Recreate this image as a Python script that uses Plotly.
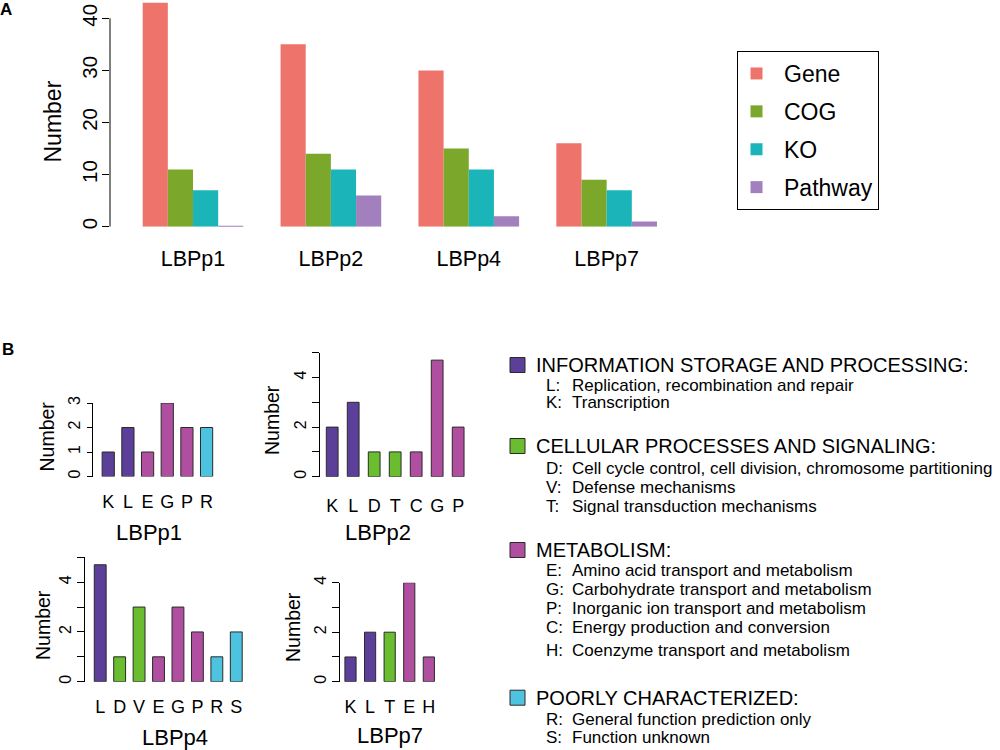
import plotly.graph_objects as go

# ---------------- DATA ----------------
samples = ["LBPp1", "LBPp2", "LBPp4", "LBPp7"]
gene = [43, 35, 30, 16]
cog = [11, 14, 15, 9]
ko = [7, 11, 11, 7]
pathway = [0.2, 6, 2, 1]
a_ticks = [0, 10, 20, 30, 40]

p1_cats = ["K", "L", "E", "G", "P", "R"]
p1_vals = [1, 2, 1, 3, 2, 2]
p2_cats = ["K", "L", "D", "T", "C", "G", "P"]
p2_vals = [2, 3, 1, 1, 1, 4.7, 2]
p4_cats = ["L", "D", "V", "E", "G", "P", "R", "S"]
p4_vals = [4.7, 1, 3, 1, 3, 2, 1, 2]
p7_cats = ["K", "L", "T", "E", "H"]
p7_vals = [1, 2, 2, 4, 1]

cog_class = {"L": "info", "K": "info", "D": "cell", "V": "cell", "T": "cell",
             "E": "met", "G": "met", "P": "met", "C": "met", "H": "met",
             "R": "poor", "S": "poor"}

legend_groups = [
    ("info", "INFORMATION STORAGE AND PROCESSING:",
     [("L:", "Replication, recombination and repair"), ("K:", "Transcription")]),
    ("cell", "CELLULAR PROCESSES AND SIGNALING:",
     [("D:", "Cell cycle control, cell division, chromosome partitioning"),
      ("V:", "Defense mechanisms"), ("T:", "Signal transduction mechanisms")]),
    ("met", "METABOLISM:",
     [("E:", "Amino acid transport and metabolism"), ("G:", "Carbohydrate transport and metabolism"),
      ("P:", "Inorganic ion transport and metabolism"), ("C:", "Energy production and conversion"),
      ("H:", "Coenzyme transport and metabolism")]),
    ("poor", "POORLY CHARACTERIZED:",
     [("R:", "General function prediction only"), ("S:", "Function unknown")]),
]

# ---------------- STYLE ----------------
W, H = 1000, 750
FONT = "Liberation Sans, Arial, Helvetica, sans-serif"
colA = {"Gene": "#EE746B", "COG": "#7BA72B", "KO": "#1BB5B9", "Pathway": "#A27FBD"}
colB = {"info": "#5B3F98", "cell": "#6ABD2E", "met": "#B04E9F", "poor": "#4EC3E0"}
EDGE = "#2a2a2a"


def fx(x):
    return x / W


def fy(y):
    return 1 - y / H


fig = go.Figure()

# ---- Panel A ----
for name, vals in [("Gene", gene), ("COG", cog), ("KO", ko), ("Pathway", pathway)]:
    fig.add_trace(go.Bar(x=samples, y=vals, name=name, legendgroup=name,
                         marker=dict(color=colA[name], line=dict(width=0)),
                         xaxis="x", yaxis="y"))

# ---- Panel B ----
# axis id, cats, vals, title, x-domain px, x-range, y-domain px, ymax, labelled ticks,
# bar width, title pos, "Number" pos, x tick standoff, y ticklen
panels = [
    ("2", p1_cats, p1_vals, "LBPp1", (92.5, 230), (-0.80, 6.19), (476.5, 403), 3, [0, 1, 2, 3], 0.62, (149, 532), (46.5, 437), 12, 5),
    ("3", p2_cats, p2_vals, "LBPp2", (320, 480), (-0.581, 7.04), (476.7, 352.7), 5, [0, 2, 4], 0.56, (378, 532), (272, 420), 16, 7),
    ("4", p4_cats, p4_vals, "LBPp4", (85, 260), (-0.782, 8.22), (681.7, 557.3), 5, [0, 2, 4], 0.61, (175, 737), (43, 625), 12, 7),
    ("5", p7_cats, p7_vals, "LBPp7", (340, 450), (-0.536, 5.08), (681.7, 582.7), 4, [0, 2, 4], 0.57, (390, 735), (293, 627), 12, 7),
]

annotations = []
shapes = []

for ax, cats, vals, title, xd, xr, yd, ymax, labelled, bw, tpos, npos, tso, tlen in panels:
    fig.add_trace(go.Bar(x=cats, y=vals, showlegend=False, width=bw,
                         marker=dict(color=[colB[cog_class[c]] for c in cats],
                                     line=dict(color=EDGE, width=1)),
                         xaxis="x" + ax, yaxis="y" + ax))
    tv = list(range(0, ymax + 1))
    tt = [str(v) if v in labelled else "" for v in tv]
    fig.layout["xaxis" + ax] = dict(domain=[fx(xd[0]), fx(xd[1])], range=list(xr), anchor="y" + ax,
                                    showline=False, ticks="", showgrid=False, zeroline=False,
                                    tickmode="array", tickvals=cats, ticktext=cats,
                                    tickfont=dict(size=18, color="black"), ticklabelstandoff=tso,
                                    automargin=False, fixedrange=True)
    fig.layout["yaxis" + ax] = dict(domain=[fy(yd[0]), fy(yd[1])], range=[0, ymax], anchor="x" + ax,
                                    showline=True, linecolor="black", linewidth=1,
                                    ticks="outside", ticklen=tlen, tickcolor="black",
                                    tickmode="array", tickvals=tv, ticktext=tt, tickangle=-90,
                                    showgrid=False, zeroline=False,
                                    tickfont=dict(size=16, color="black"),
                                    automargin=False, fixedrange=True)
    annotations.append(dict(text=title, x=fx(tpos[0]), y=fy(tpos[1]), xref="paper", yref="paper",
                            showarrow=False, xanchor="center", yanchor="middle",
                            font=dict(size=22, color="black")))
    annotations.append(dict(text="Number", x=fx(npos[0]), y=fy(npos[1]), xref="paper", yref="paper",
                            showarrow=False, xanchor="center", yanchor="middle", textangle=-90,
                            font=dict(size=19.5, color="black")))

# A axes (y range a bit above 40 so the tallest bar is not clipped; axis line drawn 0..40)
A_BOTTOM, A_PX_PER_UNIT, A_YMAX = 226.7, 5.21, 43.2
fig.layout.xaxis = dict(domain=[fx(110), fx(700)], range=[-0.602, 3.677], anchor="y",
                        showline=False, ticks="", showgrid=False, zeroline=False,
                        tickfont=dict(size=21.5, color="black"), ticklabelstandoff=17,
                        automargin=False, fixedrange=True)
fig.layout.yaxis = dict(domain=[fy(A_BOTTOM), fy(A_BOTTOM - A_YMAX * A_PX_PER_UNIT)], range=[0, A_YMAX],
                        anchor="x", showline=False,
                        ticks="outside", ticklen=7, tickcolor="black",
                        tickmode="array", tickvals=a_ticks, tickangle=-90, showgrid=False, zeroline=False,
                        tickfont=dict(size=20.5, color="black"), ticklabelstandoff=-3,
                        automargin=False, fixedrange=True)
shapes.append(dict(type="line", xref="x domain", yref="y", x0=0, x1=0,
                   y0=a_ticks[0], y1=a_ticks[-1], line=dict(color="black", width=1)))
annotations.append(dict(text="Number", x=fx(52), y=fy(121.5), xref="paper", yref="paper",
                        showarrow=False, xanchor="center", yanchor="middle", textangle=-90,
                        font=dict(size=23, color="black")))

# panel letters
annotations.append(dict(text="<b>A</b>", x=fx(6), y=fy(10), xref="paper", yref="paper",
                        showarrow=False, xanchor="center", yanchor="middle", font=dict(size=17, color="black")))
annotations.append(dict(text="<b>B</b>", x=fx(8), y=fy(349), xref="paper", yref="paper",
                        showarrow=False, xanchor="center", yanchor="middle", font=dict(size=17, color="black")))

# ---- Panel B legend (text block) ----
header_y = [365, 446, 550, 697.7]
item_y = [[385, 402.7], [468.3, 487.7, 506], [570, 589.3, 608.7, 627.7, 650.7], [719, 737.3]]
for (key, header, items), hy, iys in zip(legend_groups, header_y, item_y):
    shapes.append(dict(type="rect", xref="paper", yref="paper",
                       x0=fx(510), x1=fx(525), y0=fy(hy + 7.5), y1=fy(hy - 7.5),
                       fillcolor=colB[key], line=dict(color=EDGE, width=1)))
    annotations.append(dict(text=header, x=fx(534), y=fy(hy), xref="paper", yref="paper",
                            showarrow=False, xanchor="left", yanchor="middle",
                            font=dict(size=20, color="black")))
    for (code, desc), iy in zip(items, iys):
        annotations.append(dict(text=code, x=fx(544), y=fy(iy), xref="paper", yref="paper",
                                showarrow=False, xanchor="left", yanchor="middle",
                                font=dict(size=17, color="black")))
        annotations.append(dict(text=desc, x=fx(570), y=fy(iy), xref="paper", yref="paper",
                                showarrow=False, xanchor="left", yanchor="middle",
                                font=dict(size=17, color="black")))

fig.update_layout(
    width=W, height=H, margin=dict(l=0, r=0, t=0, b=0, autoexpand=False),
    paper_bgcolor="white", plot_bgcolor="white",
    font=dict(family=FONT, color="black"),
    barmode="group", bargap=0.27, bargroupgap=0,
    showlegend=True,
    legend=dict(x=fx(737), y=fy(51), xanchor="left", yanchor="top",
                bordercolor="black", borderwidth=1, bgcolor="white",
                font=dict(size=23, color="black"), tracegroupgap=5,
                itemwidth=45, indentation=-9),
    annotations=annotations, shapes=shapes,
)

fig.write_html("out.html", config={"displayModeBar": False},
               post_script="document.body.style.margin='0px';document.body.style.overflow='hidden';")
